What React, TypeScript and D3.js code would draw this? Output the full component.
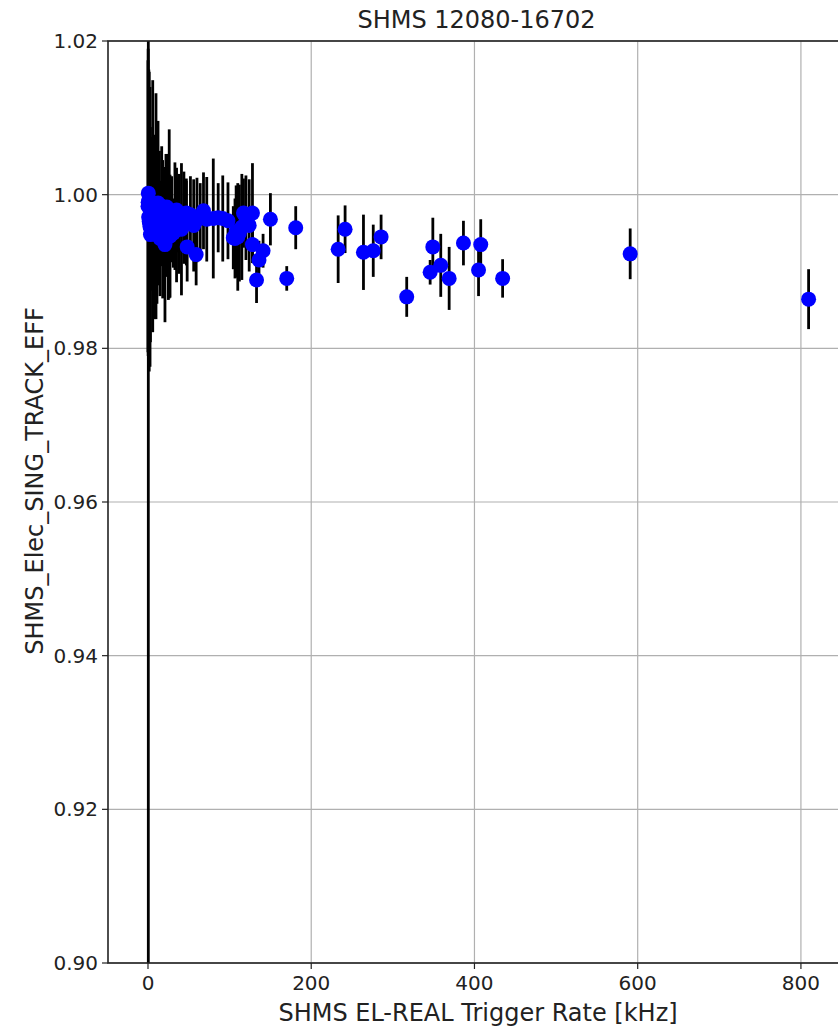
import React from "react";
import * as d3 from "d3";

// Data: SHMS EL-REAL trigger rate [kHz], efficiency, uncertainty
const rate: number[] = [
  0.4, 0.2, 0.0, 0.8, 2.5, 5.8, 9.8, 12.3, 16.8, 1.5, 3.5, 6.5, 10.6, 12.7, 14.7,
  20.8, 23, 23, 26, 29, 31, 35, 35, 41, 47, 47, 48, 60, 59, 68,
  80, 91.6, 104.5, 106.6, 112, 115, 117, 128, 128, 136, 141, 133, 150, 170, 181,
  233, 241.5, 264, 276, 285.6, 317, 349, 345.7, 358.7, 369, 386.5, 407.7, 405, 434.5,
  590.8, 809.4,
  1.0, 2.0, 3.0, 4.2, 7.5, 8.5, 11, 14, 18, 22, 25, 27, 33, 38, 44,
  52, 56, 64, 72, 86, 98, 108, 110, 120, 124,
];
const eff: number[] = [
  1.0002, 0.999, 0.9985, 0.9971, 0.9958, 0.9985, 0.9985, 0.9989, 0.9985, 0.9965, 0.998, 0.998, 0.9954, 0.9983, 0.9943,
  0.9935, 0.9984, 0.9963, 0.9975, 0.9968, 0.995, 0.998, 0.9954, 0.9955, 0.9976, 0.9963, 0.9932, 0.9967, 0.9922, 0.9979,
  0.9969, 0.9969, 0.9944, 0.9943, 0.995, 0.9958, 0.9976, 0.9976, 0.9935, 0.9915, 0.9927, 0.9889, 0.9968, 0.9891, 0.9957,
  0.9929, 0.9955, 0.9925, 0.9927, 0.9945, 0.9867, 0.9932, 0.9899, 0.9908, 0.9891, 0.9937, 0.9935, 0.9902, 0.9891,
  0.9923, 0.9864,
  0.9993, 0.9962, 0.9948, 0.9975, 0.9958, 0.997, 0.9968, 0.9972, 0.9955, 0.9978, 0.9958, 0.9946, 0.9972, 0.9962, 0.997,
  0.9974, 0.996, 0.997, 0.9968, 0.997, 0.9966, 0.9952, 0.9945, 0.997, 0.996,
];
const err: number[] = [
  0.13, 0.02, 0.019, 0.012, 0.0182, 0.0164, 0.0147, 0.0107, 0.0078, 0.0195, 0.009, 0.0095, 0.0085, 0.006, 0.0075,
  0.0101, 0.0052, 0.007, 0.011, 0.0056, 0.0045, 0.0055, 0.0068, 0.0086, 0.0045, 0.0055, 0.0045, 0.0055, 0.004, 0.005,
  0.0078, 0.0056, 0.0041, 0.0052, 0.0063, 0.0069, 0.0045, 0.0065, 0.002, 0.0025, 0.0022, 0.003, 0.0034, 0.0016, 0.0028,
  0.0044, 0.0031, 0.0049, 0.0034, 0.0029, 0.0026, 0.0038, 0.0016, 0.0041, 0.0041, 0.0029, 0.0033, 0.0034, 0.0025,
  0.0033, 0.0039,
  0.017, 0.012, 0.014, 0.01, 0.012, 0.009, 0.011, 0.0085, 0.009, 0.0075, 0.0095, 0.008, 0.007, 0.0065, 0.006,
  0.005, 0.006, 0.0045, 0.0055, 0.0045, 0.005, 0.006, 0.007, 0.0055, 0.006,
];

const xTicks: number[] = [0, 200, 400, 600, 800];
const yTicks: number[] = [0.9, 0.92, 0.94, 0.96, 0.98, 1.0, 1.02];
const title = "SHMS 12080-16702";
const xLabel = "SHMS EL-REAL Trigger Rate [kHz]";
const yLabel = "SHMS_Elec_SING_TRACK_EFF";

const W = 838;
const H = 1031;
const L = 108, R = 845, T = 41, B = 963;
const FONT = "'DejaVu Sans', sans-serif";

export default function App() {
  const x = d3.scaleLinear().domain([-49, 854]).range([L, R]);
  const y = d3.scaleLinear().domain([0.9, 1.02]).range([B, T]);
  const pts = rate.map((r, i) => ({ r, e: eff[i], s: err[i] }));
  return (
    <svg width={W} height={H} style={{ position: "absolute", left: 0, top: 0, background: "#fff" }}>
      <defs>
        <clipPath id="plot">
          <rect x={L} y={T} width={R - L} height={B - T} />
        </clipPath>
      </defs>
      <rect x={0} y={0} width={W} height={H} fill="#fff" />
      {xTicks.map((t) => (
        <line key={"gx" + t} x1={x(t)} x2={x(t)} y1={T} y2={B} stroke="#b0b0b0" strokeWidth={1.2} />
      ))}
      {yTicks.map((t) => (
        <line key={"gy" + t} x1={L} x2={R} y1={y(t)} y2={y(t)} stroke="#b0b0b0" strokeWidth={1.2} />
      ))}
      <g clipPath="url(#plot)">
        {pts.map((p, i) => (
          <line key={"e" + i} x1={x(p.r)} x2={x(p.r)} y1={y(p.e - p.s)} y2={y(p.e + p.s)} stroke="#000" strokeWidth={2.8} />
        ))}
        {pts.map((p, i) => (
          <circle key={"c" + i} cx={x(p.r)} cy={y(p.e)} r={7.5} fill="#0000ff" />
        ))}
      </g>
      <rect x={L} y={T} width={R - L} height={B - T} fill="none" stroke="#222" strokeWidth={1.6} />
      {xTicks.map((t) => (
        <g key={"tx" + t}>
          <line x1={x(t)} x2={x(t)} y1={B} y2={B + 6} stroke="#222" strokeWidth={1.2} />
          <text x={x(t)} y={B + 27} textAnchor="middle" fontFamily={FONT} fontSize={20} fill="#222">
            {t}
          </text>
        </g>
      ))}
      {yTicks.map((t) => (
        <g key={"ty" + t}>
          <line x1={L - 6} x2={L} y1={y(t)} y2={y(t)} stroke="#222" strokeWidth={1.2} />
          <text x={L - 10} y={y(t) + 7} textAnchor="end" fontFamily={FONT} fontSize={20} fill="#222">
            {t.toFixed(2)}
          </text>
        </g>
      ))}
      <text x={(L + R) / 2} y={28} textAnchor="middle" fontFamily={FONT} fontSize={24} fill="#222">
        {title}
      </text>
      <text x={478} y={1021} textAnchor="middle" fontFamily={FONT} fontSize={24} fill="#222">
        {xLabel}
      </text>
      <text
        transform={`translate(43, 481) rotate(-90)`}
        textAnchor="middle"
        fontFamily={FONT}
        fontSize={24}
        fill="#222"
      >
        {yLabel}
      </text>
    </svg>
  );
}
